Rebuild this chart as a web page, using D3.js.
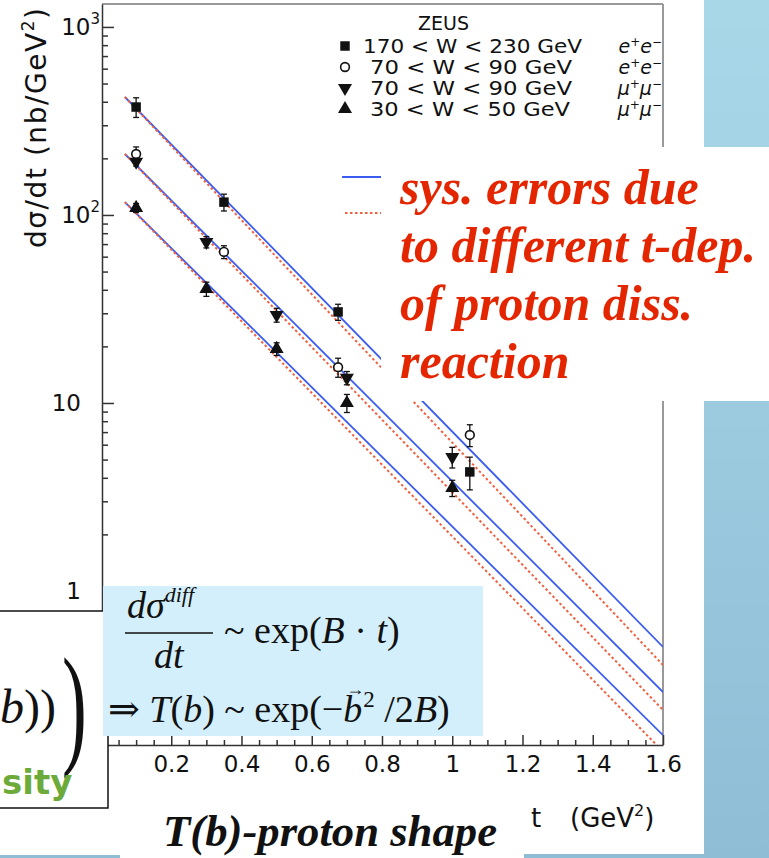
<!DOCTYPE html>
<html>
<head>
<meta charset="utf-8">
<script src="https://cdn.jsdelivr.net/npm/d3@7"></script>
<style>
  body { margin: 0; background: #fff; }
  svg { display: block; }
</style>
</head>
<body>
<div id="container"></div>
<script>
// data
const tickLabelsX = [0.2, 0.4, 0.6, 0.8, 1, 1.2, 1.4, 1.6];
const majorY = [1, 10, 100, 1000];
const legendNames = ["170 < W < 230 GeV", "70 < W < 90 GeV", "70 < W < 90 GeV", "30 < W < 50 GeV"];
const legendLepton = ["e", "e", "μ", "μ"];
const legendSymbols = ["square", "circle", "down", "up"];

const tSquare = [0.1, 0.35, 0.675, 1.05];
const vSquare = [375, 117, 30.5, 4.3];
const eSquare = [45, 12, 3, 0.85];

const tCircle = [0.1, 0.35, 0.675, 1.05];
const vCircle = [211, 63.6, 15.5, 6.76];
const eCircle = [19, 5, 1.8, 0.9];

const tDown = [0.1, 0.3, 0.5, 0.7, 1.0];
const vDown = [192, 71.8, 29.4, 13.6, 5.16];
const eDown = [10, 5, 2.5, 1.1, 0.65];

const tUp = [0.1, 0.3, 0.5, 0.7, 1.0];
const vUp = [109, 40.4, 19.4, 10.0, 3.53];
const eUp = [6, 3.5, 1.5, 1.1, 0.35];

// fit lines, values at the two ends
const fitT = [0.068, 1.6];
const fitBlue = [[424, 0.504], [211, 0.29], [117, 0.171]];
const fitRed = [[424, 0.404], [211, 0.233], [117, 0.14]];

const redLines = ["sys. errors due", "to different t-dep.", "of proton diss.", "reaction"];

const width = 769;
const height = 858;

const svg = d3.select("#container")
  .append("svg")
  .attr("width", width)
  .attr("height", height);

const defs = svg.append("defs");
const grad = defs.append("linearGradient")
  .attr("id", "slide")
  .attr("gradientUnits", "userSpaceOnUse")
  .attr("x1", 0).attr("y1", 0).attr("x2", 0).attr("y2", height);
grad.append("stop").attr("offset", "0%").attr("stop-color", "#a8d8e8");
grad.append("stop").attr("offset", "100%").attr("stop-color", "#8fbdd6");

// slide background showing round the pasted pictures
svg.append("rect").attr("x", 704).attr("y", 0).attr("width", 65).attr("height", 147).attr("fill", "url(#slide)");
svg.append("rect").attr("x", 704).attr("y", 401).attr("width", 65).attr("height", 457).attr("fill", "url(#slide)");
svg.append("rect").attr("x", 0).attr("y", 855).attr("width", 120).attr("height", 3).attr("fill", "url(#slide)");
svg.append("rect").attr("x", 524).attr("y", 854).attr("width", 245).attr("height", 4).attr("fill", "url(#slide)");

const x = d3.scaleLinear().domain([0, 1.6]).range([101, 663]);
const y = d3.scaleLog().domain([Math.pow(10, -0.819), Math.pow(10, 3.122)]).range([745, 4]);

const sansFont = "DejaVu Sans, Liberation Sans, sans-serif";
const serifFont = "Liberation Serif, DejaVu Serif, serif";

defs.append("clipPath").attr("id", "plotClip")
  .append("rect").attr("x", 102).attr("y", 4).attr("width", 561).attr("height", 741);

// frame
svg.append("line").attr("x1", 102).attr("x2", 663).attr("y1", 4).attr("y2", 4)
  .attr("stroke", "#999").attr("stroke-width", 2);
svg.append("line").attr("x1", 663).attr("x2", 663).attr("y1", 4).attr("y2", 745)
  .attr("stroke", "#999").attr("stroke-width", 2);

// y axis
const minorY = [];
for (let d = -1; d <= 3; d++) {
  for (let k = 2; k <= 9; k++) {
    const v = k * Math.pow(10, d);
    if (v > y.domain()[0] && v < y.domain()[1]) minorY.push(v);
  }
}
const yMinor = svg.append("g").attr("transform", "translate(102,0)")
  .call(d3.axisRight(y).tickValues(minorY).tickSize(6).tickSizeOuter(0).tickFormat(""));
const yMajor = svg.append("g").attr("transform", "translate(102,0)")
  .call(d3.axisRight(y).tickValues(majorY).tickSize(12).tickSizeOuter(0).tickFormat(""));
yMajor.select(".domain").remove();
[yMinor, yMajor].forEach(g => {
  g.selectAll("line").attr("stroke", "#333").attr("stroke-width", 1.5);
  g.select(".domain").attr("stroke", "#333").attr("stroke-width", 1.5);
});

// y tick labels
const yLab = svg.append("g").attr("font-family", sansFont).attr("font-size", 23).attr("fill", "#111");
majorY.forEach(v => {
  const t = yLab.append("text").attr("y", y(v) + 8).attr("text-anchor", "end");
  if (v >= 100) {
    t.attr("x", 100);
    t.append("tspan").text("10");
    t.append("tspan").attr("font-size", 15).attr("dy", -11).text(String(Math.round(Math.log10(v))));
  } else {
    t.attr("x", 81).text(String(v));
  }
});

// x axis
const minorX = d3.range(1, 32).map(i => i * 0.05).filter(v => Math.abs(v / 0.2 - Math.round(v / 0.2)) > 1e-6);
const xMinor = svg.append("g").attr("transform", "translate(0,745)")
  .call(d3.axisTop(x).tickValues(minorX).tickSize(5).tickSizeOuter(0).tickFormat(""));
const xMajor = svg.append("g").attr("transform", "translate(0,745)")
  .call(d3.axisTop(x).tickValues(tickLabelsX).tickSize(10).tickSizeOuter(0).tickFormat(""));
xMajor.select(".domain").remove();
[xMinor, xMajor].forEach(g => {
  g.selectAll("line").attr("stroke", "#333").attr("stroke-width", 1.5);
  g.select(".domain").attr("stroke", "#333").attr("stroke-width", 1.5);
});
const xLab = svg.append("g").attr("transform", "translate(0,745)")
  .call(d3.axisBottom(x).tickValues(tickLabelsX).tickSize(0).tickPadding(11).tickFormat(d => String(d)));
xLab.select(".domain").remove();
xLab.selectAll("text").attr("font-family", sansFont).attr("font-size", 23).attr("fill", "#111");

// axis titles
const yTitle = svg.append("text")
  .attr("transform", "translate(46,128) rotate(-90)")
  .attr("text-anchor", "middle")
  .attr("font-family", sansFont).attr("font-size", 28).attr("fill", "#111")
  .attr("textLength", 240).attr("lengthAdjust", "spacing");
yTitle.append("tspan").text("dσ/dt  (nb/GeV");
yTitle.append("tspan").attr("font-size", 17).attr("dy", -12).text("2");
yTitle.append("tspan").attr("dy", 12).text(")");

svg.append("text").attr("x", 531).attr("y", 827)
  .attr("font-family", sansFont).attr("font-size", 26).attr("fill", "#111").text("t");
const xTitle = svg.append("text").attr("x", 570).attr("y", 827)
  .attr("font-family", sansFont).attr("font-size", 26).attr("fill", "#111");
xTitle.append("tspan").text("(GeV");
xTitle.append("tspan").attr("font-size", 16).attr("dy", -11).text("2");
xTitle.append("tspan").attr("dy", 11).text(")");

// fit lines
const plot = svg.append("g").attr("clip-path", "url(#plotClip)");
const line = d3.line().x(d => x(d[0])).y(d => y(d[1]));
fitBlue.forEach(f => {
  plot.append("path").datum(fitT.map((t, i) => [t, f[i]]))
    .attr("d", line).attr("fill", "none").attr("stroke", "#3a5cf0").attr("stroke-width", 1.8);
});
fitRed.forEach(f => {
  plot.append("path").datum(fitT.map((t, i) => [t, f[i]]))
    .attr("d", line).attr("fill", "none").attr("stroke", "#f2603f").attr("stroke-width", 2)
    .attr("stroke-dasharray", "2.5,2.5");
});

// markers
function symbolPath(kind) {
  if (kind === "square") return d3.symbol(d3.symbolSquare, 90)();
  if (kind === "circle") return d3.symbol(d3.symbolCircle, 60)();
  return d3.symbol(d3.symbolTriangle, 85)();
}
function drawMarker(g, kind, cx, cy) {
  const p = g.append("path").attr("d", symbolPath(kind))
    .attr("transform", `translate(${cx},${cy})` + (kind === "down" ? " rotate(180)" : ""));
  if (kind === "circle") p.attr("fill", "#fff").attr("stroke", "#111").attr("stroke-width", 1.6);
  else p.attr("fill", "#111");
}

const pointSets = [
  { t: tSquare, v: vSquare, e: eSquare, kind: "square" },
  { t: tCircle, v: vCircle, e: eCircle, kind: "circle" },
  { t: tDown, v: vDown, e: eDown, kind: "down" },
  { t: tUp, v: vUp, e: eUp, kind: "up" }
];

const pts = svg.append("g");
pointSets.forEach(s => {
  s.t.forEach((t, i) => {
    const cx = x(t);
    const y0 = y(s.v[i] - s.e[i]);
    const y1 = y(s.v[i] + s.e[i]);
    pts.append("line").attr("x1", cx).attr("x2", cx).attr("y1", y0).attr("y2", y1)
      .attr("stroke", "#111").attr("stroke-width", 1.3);
    [y0, y1].forEach(yy => {
      pts.append("line").attr("x1", cx - 3).attr("x2", cx + 3).attr("y1", yy).attr("y2", yy)
        .attr("stroke", "#111").attr("stroke-width", 1.3);
    });
  });
});
pointSets.forEach(s => {
  s.t.forEach((t, i) => drawMarker(pts, s.kind, x(t), y(s.v[i])));
});

// legend
const leg = svg.append("g").attr("font-family", sansFont).attr("fill", "#111");
leg.append("text").attr("x", 418).attr("y", 30).attr("font-size", 19).text("ZEUS");
const legendEnds = [582, 572, 572, 570];
legendNames.forEach((name, i) => {
  const by = 53 + i * 21;
  const x0 = i === 0 ? 363 : 370;
  drawMarker(leg, legendSymbols[i], 345, by - 7);
  leg.append("text").attr("x", x0).attr("y", by).attr("font-size", 19)
    .attr("textLength", legendEnds[i] - x0).attr("lengthAdjust", "spacingAndGlyphs").text(name);
  const lt = leg.append("text").attr("x", 662).attr("y", by).attr("text-anchor", "end")
    .attr("font-size", 19).attr("font-style", "italic");
  lt.append("tspan").text(legendLepton[i]);
  lt.append("tspan").attr("font-size", 12).attr("dy", -7).text("+");
  lt.append("tspan").attr("dy", 7).text(legendLepton[i]);
  lt.append("tspan").attr("font-size", 12).attr("dy", -7).text("−");
});
leg.append("line").attr("x1", 342).attr("x2", 381).attr("y1", 177).attr("y2", 177)
  .attr("stroke", "#3a5cf0").attr("stroke-width", 1.8);
leg.append("line").attr("x1", 345).attr("x2", 381).attr("y1", 213).attr("y2", 213)
  .attr("stroke", "#f2603f").attr("stroke-width", 2).attr("stroke-dasharray", "2.5,2.5");

// red annotation box
svg.append("rect").attr("x", 381).attr("y", 147).attr("width", 388).attr("height", 254).attr("fill", "#fff");
const red = svg.append("g").attr("font-family", serifFont).attr("font-size", 50)
  .attr("font-weight", "bold").attr("font-style", "italic").attr("fill", "#e42600");
redLines.forEach((s, i) => {
  red.append("text").attr("x", 400).attr("y", 204 + i * 58).text(s);
});

// left formula box (partly off the slide)
svg.append("rect").attr("x", -3).attr("y", 611).attr("width", 111).attr("height", 197)
  .attr("fill", "#fff").attr("stroke", "#111").attr("stroke-width", 1.5);
const lf = svg.append("text").attr("x", 0).attr("y", 723)
  .attr("font-family", serifFont).attr("font-size", 48).attr("fill", "#111");
lf.append("tspan").attr("font-style", "italic").text("b");
lf.append("tspan").text("))");
svg.append("text").attr("transform", "translate(62,750) scale(1.2,2.15)")
  .attr("font-family", serifFont).attr("font-size", 62).attr("fill", "#111").text(")");
svg.append("text").attr("x", 2).attr("y", 794)
  .attr("font-family", sansFont).attr("font-size", 34).attr("font-weight", "bold")
  .attr("fill", "#6cab3a").text("sity");

// light blue formula box
svg.append("rect").attr("x", 103).attr("y", 586).attr("width", 380).attr("height", 150).attr("fill", "#d4effc");
const fm = svg.append("g").attr("font-family", serifFont).attr("fill", "#111");
const num = fm.append("text").attr("x", 127).attr("y", 618).attr("font-size", 38).attr("font-style", "italic");
num.append("tspan").text("dσ");
num.append("tspan").attr("font-size", 22).attr("dy", -16).text("diff");
fm.append("line").attr("x1", 125).attr("x2", 213).attr("y1", 633).attr("y2", 633)
  .attr("stroke", "#111").attr("stroke-width", 1.5);
fm.append("text").attr("x", 154).attr("y", 668).attr("font-size", 38).attr("font-style", "italic").text("dt");
const f1 = fm.append("text").attr("x", 224).attr("y", 643).attr("font-size", 38);
f1.append("tspan").text("~ exp(");
f1.append("tspan").attr("font-style", "italic").text("B");
f1.append("tspan").text(" · ");
f1.append("tspan").attr("font-style", "italic").text("t");
f1.append("tspan").text(")");

const f2 = fm.append("text").attr("x", 108).attr("y", 722).attr("font-size", 38);
f2.append("tspan").text("⇒ ");
f2.append("tspan").attr("font-style", "italic").text("T");
f2.append("tspan").text("(");
f2.append("tspan").attr("font-style", "italic").text("b");
f2.append("tspan").text(") ~ exp(−");
const vecB = f2.append("tspan").attr("font-style", "italic").text("b");
const arrow = f2.append("tspan").attr("font-size", 18).text("→");
const sup2 = f2.append("tspan").attr("font-size", 23).text("2");
f2.append("tspan").attr("dy", 15).text(" /2");
f2.append("tspan").attr("font-style", "italic").text("B");
f2.append("tspan").text(")");
const bw = vecB.node().getComputedTextLength();
const aw = arrow.node().getComputedTextLength();
arrow.attr("dx", -bw + 3).attr("dy", -27);
sup2.attr("dx", bw - 3 - aw + 1).attr("dy", 12);

// bottom caption
svg.append("text").attr("x", 163).attr("y", 846)
  .attr("font-family", serifFont).attr("font-size", 44).attr("font-weight", "bold")
  .attr("font-style", "italic").attr("fill", "#111")
  .attr("textLength", 334).attr("lengthAdjust", "spacingAndGlyphs").text("T(b)-proton shape");
</script>
</body>
</html>
